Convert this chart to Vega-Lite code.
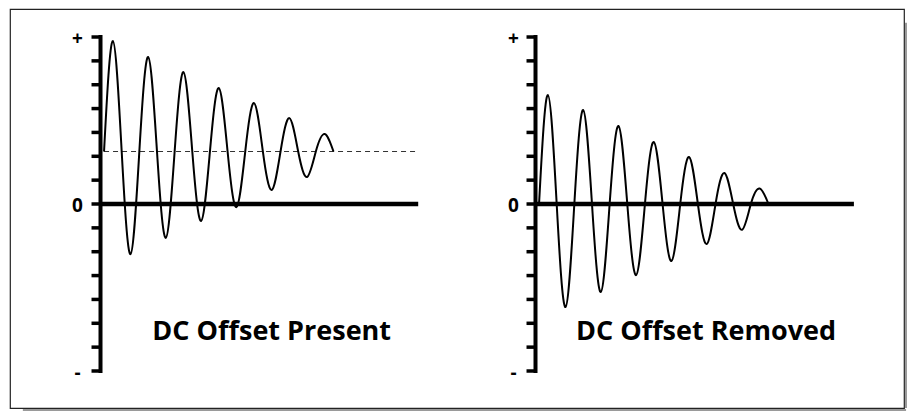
{
  "$schema": "https://vega.github.io/schema/vega-lite/v6.json",
  "width": 894,
  "height": 399,
  "autosize": {"type": "none"},
  "padding": {"left": 10, "top": 9, "right": 5, "bottom": 3},
  "background": "white",
  "config": {"view": {"stroke": "#222222", "strokeWidth": 1.2}, "font": "Open Sans"},
  "datasets": {
    "one": [{"k": 1}],
    "ticks": [{"v": -7}, {"v": -6}, {"v": -5}, {"v": -4}, {"v": -3}, {"v": -2}, {"v": -1}, {"v": 0}, {"v": 1}, {"v": 2}, {"v": 3}, {"v": 4}, {"v": 5}, {"v": 6}, {"v": 7}],
    "labels": [{"v": 7, "lab": "+"}, {"v": 0, "lab": "0"}, {"v": -7, "lab": "-"}],
    "present": [
      {"t": 0.10, "v": 2.2}, {"t": 0.35, "v": 6.83}, {"t": 0.60, "v": 2.2}, {"t": 0.85, "v": -2.10},
      {"t": 1.10, "v": 2.2}, {"t": 1.35, "v": 6.16}, {"t": 1.60, "v": 2.2}, {"t": 1.85, "v": -1.42},
      {"t": 2.10, "v": 2.2}, {"t": 2.35, "v": 5.53}, {"t": 2.60, "v": 2.2}, {"t": 2.85, "v": -0.71},
      {"t": 3.10, "v": 2.2}, {"t": 3.35, "v": 4.86}, {"t": 3.60, "v": 2.2}, {"t": 3.85, "v": -0.13},
      {"t": 4.10, "v": 2.2}, {"t": 4.35, "v": 4.23}, {"t": 4.60, "v": 2.2}, {"t": 4.85, "v": 0.59},
      {"t": 5.10, "v": 2.2}, {"t": 5.35, "v": 3.60}, {"t": 5.60, "v": 2.2}, {"t": 5.85, "v": 1.13},
      {"t": 6.10, "v": 2.2}, {"t": 6.35, "v": 2.93}, {"t": 6.60, "v": 2.2}
    ],
    "removed": [
      {"t": 0.10, "v": 0}, {"t": 0.35, "v": 4.57}, {"t": 0.60, "v": 0}, {"t": 0.85, "v": -4.32},
      {"t": 1.10, "v": 0}, {"t": 1.35, "v": 3.94}, {"t": 1.60, "v": 0}, {"t": 1.85, "v": -3.69},
      {"t": 2.10, "v": 0}, {"t": 2.35, "v": 3.27}, {"t": 2.60, "v": 0}, {"t": 2.85, "v": -2.98},
      {"t": 3.10, "v": 0}, {"t": 3.35, "v": 2.60}, {"t": 3.60, "v": 0}, {"t": 3.85, "v": -2.39},
      {"t": 4.10, "v": 0}, {"t": 4.35, "v": 1.97}, {"t": 4.60, "v": 0}, {"t": 4.85, "v": -1.68},
      {"t": 5.10, "v": 0}, {"t": 5.35, "v": 1.30}, {"t": 5.60, "v": 0}, {"t": 5.85, "v": -1.08},
      {"t": 6.10, "v": 0}, {"t": 6.35, "v": 0.65}, {"t": 6.60, "v": 0}
    ]
  },
  "layer": [
    {
      "layer": [
        {
          "data": {"name": "one"},
          "mark": {"type": "rule", "color": "#9a9a9a", "strokeWidth": 2, "xOffset": 2},
          "encoding": {
            "x": {"datum": 22.762, "type": "quantitative", "scale": {"domain": [-2.564, 22.762], "nice": false, "zero": false}, "axis": null},
            "y": {"datum": 7.6, "type": "quantitative", "scale": {"domain": [-8.551, 8.174], "nice": false, "zero": false}, "axis": null},
            "y2": {"datum": -8.551}
          }
        },
        {
          "data": {"name": "one"},
          "mark": {"type": "rule", "color": "#9a9a9a", "strokeWidth": 2, "yOffset": 2},
          "encoding": {
            "x": {"datum": -2.2, "type": "quantitative", "scale": {"domain": [-2.564, 22.762], "nice": false, "zero": false}, "axis": null},
            "x2": {"datum": 22.82},
            "y": {"datum": -8.551, "type": "quantitative", "scale": {"domain": [-8.551, 8.174], "nice": false, "zero": false}, "axis": null}
          }
        },
        {
          "data": {"values": [{"t0": 0.1, "t1": 9.0, "v": 2.2}]},
          "mark": {"type": "rule", "color": "#333333", "strokeWidth": 1.1, "strokeDash": [5, 4]},
          "encoding": {
            "x": {"field": "t0", "type": "quantitative", "scale": {"domain": [-2.564, 22.762], "nice": false, "zero": false}, "axis": null},
            "x2": {"field": "t1"},
            "y": {"field": "v", "type": "quantitative", "scale": {"domain": [-8.551, 8.174], "nice": false, "zero": false}, "axis": null}
          }
        },
        {
          "data": {"values": [{"t0": 0, "t1": 9.0, "v": 0}]},
          "mark": {"type": "rule", "color": "black", "strokeWidth": 4.5},
          "encoding": {
            "x": {"field": "t0", "type": "quantitative", "scale": {"domain": [-2.564, 22.762], "nice": false, "zero": false}, "axis": null},
            "x2": {"field": "t1"},
            "y": {"field": "v", "type": "quantitative", "scale": {"domain": [-8.551, 8.174], "nice": false, "zero": false}, "axis": null}
          }
        },
        {
          "data": {"name": "present"},
          "mark": {"type": "line", "color": "black", "strokeWidth": 2, "interpolate": "natural"},
          "encoding": {
            "x": {"field": "t", "type": "quantitative", "scale": {"domain": [-2.564, 22.762], "nice": false, "zero": false}, "axis": null},
            "y": {"field": "v", "type": "quantitative", "scale": {"domain": [-8.551, 8.174], "nice": false, "zero": false}, "axis": null}
          }
        },
        {
          "data": {"values": [{"t": 0, "lo": -7, "hi": 7}]},
          "mark": {"type": "rule", "color": "black", "strokeWidth": 4, "strokeCap": "square"},
          "encoding": {
            "x": {"field": "t", "type": "quantitative", "scale": {"domain": [-2.564, 22.762], "nice": false, "zero": false}, "axis": null},
            "y": {"field": "hi", "type": "quantitative", "scale": {"domain": [-8.551, 8.174], "nice": false, "zero": false}, "axis": null},
            "y2": {"field": "lo"}
          }
        },
        {
          "data": {"name": "ticks"},
          "mark": {"type": "tick", "orient": "horizontal", "color": "black", "size": 9, "thickness": 3.5, "xOffset": -4.5, "opacity": 1},
          "encoding": {
            "x": {"datum": 0, "type": "quantitative", "scale": {"domain": [-2.564, 22.762], "nice": false, "zero": false}, "axis": null},
            "y": {"field": "v", "type": "quantitative", "scale": {"domain": [-8.551, 8.174], "nice": false, "zero": false}, "axis": null}
          }
        },
        {
          "data": {"name": "labels"},
          "mark": {"type": "text", "color": "black", "fontSize": 19, "fontWeight": "bold", "align": "center", "baseline": "middle", "dx": -23, "dy": 2},
          "encoding": {
            "x": {"datum": 0, "type": "quantitative", "scale": {"domain": [-2.564, 22.762], "nice": false, "zero": false}, "axis": null},
            "y": {"field": "v", "type": "quantitative", "scale": {"domain": [-8.551, 8.174], "nice": false, "zero": false}, "axis": null},
            "text": {"field": "lab"}
          }
        },
        {
          "data": {"values": [{"t": 4.85, "v": -5.7, "txt": "DC Offset Present"}]},
          "mark": {"type": "text", "color": "black", "fontSize": 27, "fontWeight": "bold", "align": "center", "baseline": "alphabetic"},
          "encoding": {
            "x": {"field": "t", "type": "quantitative", "scale": {"domain": [-2.564, 22.762], "nice": false, "zero": false}, "axis": null},
            "y": {"field": "v", "type": "quantitative", "scale": {"domain": [-8.551, 8.174], "nice": false, "zero": false}, "axis": null},
            "text": {"field": "txt"}
          }
        }
      ]
    },
    {
      "layer": [
        {
          "data": {"values": [{"t0": 0, "t1": 9.02, "v": 0}]},
          "mark": {"type": "rule", "color": "black", "strokeWidth": 4.5},
          "encoding": {
            "x": {"field": "t0", "type": "quantitative", "scale": {"domain": [-14.887, 10.439], "nice": false, "zero": false}, "axis": null},
            "x2": {"field": "t1"},
            "y": {"field": "v", "type": "quantitative", "scale": {"domain": [-8.551, 8.174], "nice": false, "zero": false}, "axis": null}
          }
        },
        {
          "data": {"name": "removed"},
          "mark": {"type": "line", "color": "black", "strokeWidth": 2, "interpolate": "natural"},
          "encoding": {
            "x": {"field": "t", "type": "quantitative", "scale": {"domain": [-14.887, 10.439], "nice": false, "zero": false}, "axis": null},
            "y": {"field": "v", "type": "quantitative", "scale": {"domain": [-8.551, 8.174], "nice": false, "zero": false}, "axis": null}
          }
        },
        {
          "data": {"values": [{"t": 0, "lo": -7, "hi": 7}]},
          "mark": {"type": "rule", "color": "black", "strokeWidth": 4, "strokeCap": "square"},
          "encoding": {
            "x": {"field": "t", "type": "quantitative", "scale": {"domain": [-14.887, 10.439], "nice": false, "zero": false}, "axis": null},
            "y": {"field": "hi", "type": "quantitative", "scale": {"domain": [-8.551, 8.174], "nice": false, "zero": false}, "axis": null},
            "y2": {"field": "lo"}
          }
        },
        {
          "data": {"name": "ticks"},
          "mark": {"type": "tick", "orient": "horizontal", "color": "black", "size": 9, "thickness": 3.5, "xOffset": -4.5, "opacity": 1},
          "encoding": {
            "x": {"datum": 0, "type": "quantitative", "scale": {"domain": [-14.887, 10.439], "nice": false, "zero": false}, "axis": null},
            "y": {"field": "v", "type": "quantitative", "scale": {"domain": [-8.551, 8.174], "nice": false, "zero": false}, "axis": null}
          }
        },
        {
          "data": {"name": "labels"},
          "mark": {"type": "text", "color": "black", "fontSize": 19, "fontWeight": "bold", "align": "center", "baseline": "middle", "dx": -22, "dy": 2},
          "encoding": {
            "x": {"datum": 0, "type": "quantitative", "scale": {"domain": [-14.887, 10.439], "nice": false, "zero": false}, "axis": null},
            "y": {"field": "v", "type": "quantitative", "scale": {"domain": [-8.551, 8.174], "nice": false, "zero": false}, "axis": null},
            "text": {"field": "lab"}
          }
        },
        {
          "data": {"values": [{"t": 4.83, "v": -5.7, "txt": "DC Offset Removed"}]},
          "mark": {"type": "text", "color": "black", "fontSize": 27, "fontWeight": "bold", "align": "center", "baseline": "alphabetic"},
          "encoding": {
            "x": {"field": "t", "type": "quantitative", "scale": {"domain": [-14.887, 10.439], "nice": false, "zero": false}, "axis": null},
            "y": {"field": "v", "type": "quantitative", "scale": {"domain": [-8.551, 8.174], "nice": false, "zero": false}, "axis": null},
            "text": {"field": "txt"}
          }
        }
      ]
    }
  ],
  "resolve": {"scale": {"x": "independent"}}
}
